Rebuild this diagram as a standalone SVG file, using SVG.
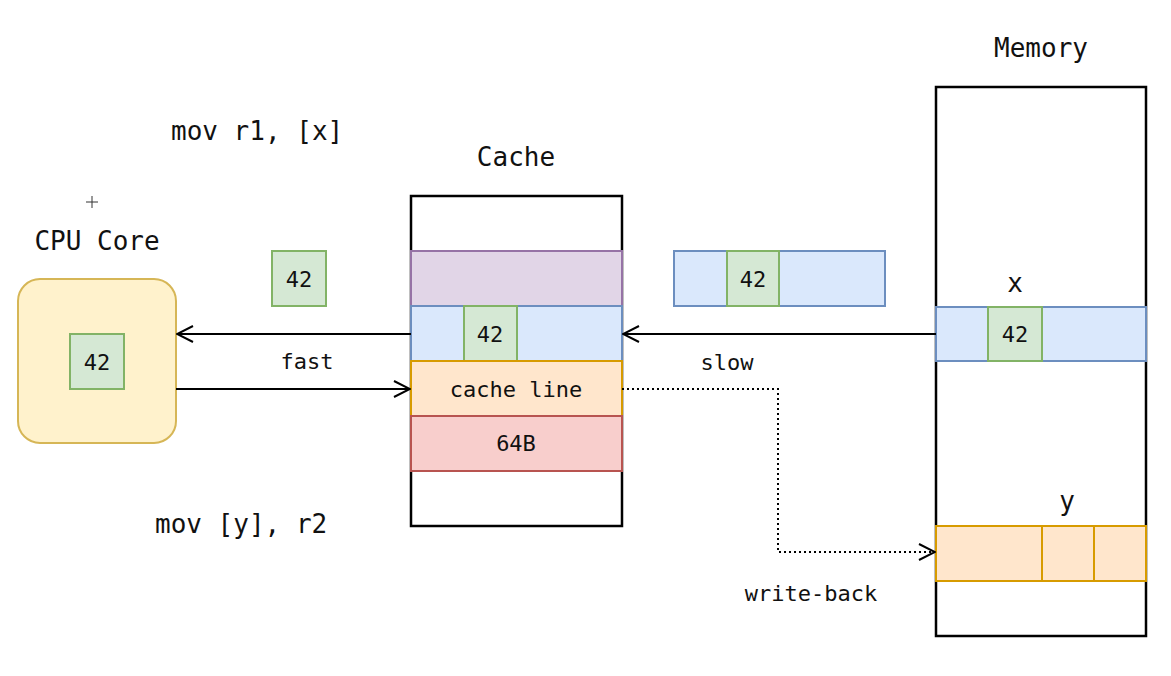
<svg xmlns="http://www.w3.org/2000/svg" width="1171" height="676" viewBox="0 0 1171 676">
<defs>
<style>
text{font-family:"DejaVu Sans Mono","Liberation Mono",monospace;fill:#111;text-anchor:middle;dominant-baseline:central}
.big{font-size:26px}
.sm{font-size:22px}
.g{fill:#d5e8d4;stroke:#82b366;stroke-width:2}
.b{fill:#dae8fc;stroke:#6c8ebf;stroke-width:2}
.p{fill:#e1d5e7;stroke:#9673a6;stroke-width:2}
.o{fill:#ffe6cc;stroke:#d79b00;stroke-width:2}
.r{fill:#f8cecc;stroke:#b85450;stroke-width:2}
.box{fill:#fff;stroke:#000;stroke-width:2.5}
.ln{fill:none;stroke:#000;stroke-width:2}
</style>
<marker id="ah" viewBox="0 0 20 20" refX="19" refY="10" markerWidth="20" markerHeight="20" markerUnits="userSpaceOnUse" orient="auto">
<path d="M3 2 L19 10 L3 18" fill="none" stroke="#000" stroke-width="2"/>
</marker>
</defs>
<rect width="1171" height="676" fill="#fff"/>
<path d="M92 196 V208 M86 202 H98" stroke="#333" stroke-width="1"/>
<text class="big" x="171" y="131" style="text-anchor:start">mov r1, [x]</text>
<text class="big" x="155" y="524" style="text-anchor:start">mov [y], r2</text>
<g id="cpu">
<text class="big" x="97" y="241">CPU Core</text>
<rect x="18" y="279" width="158" height="164" rx="22" fill="#fff2cc" stroke="#d6b656" stroke-width="2"/>
<rect class="g" x="70" y="334" width="54" height="55"/>
<text class="sm" x="97" y="362">42</text>
</g>
<g id="value">
<rect class="g" x="272" y="251" width="54" height="55"/>
<text class="sm" x="299" y="279">42</text>
</g>
<g id="cache">
<text class="big" x="516" y="157">Cache</text>
<rect class="box" x="411" y="196" width="211" height="330"/>
<rect class="p" x="411" y="251" width="211" height="55"/>
<rect class="b" x="411" y="306" width="211" height="55"/>
<rect class="g" x="464" y="306" width="53" height="55"/>
<text class="sm" x="490" y="334">42</text>
<rect class="o" x="411" y="361" width="211" height="55"/>
<text class="sm" x="516" y="389">cache line</text>
<rect class="r" x="411" y="416" width="211" height="55"/>
<text class="sm" x="516" y="443">64B</text>
</g>
<g id="transfer">
<rect class="b" x="674" y="251" width="211" height="55"/>
<rect class="g" x="727" y="251" width="52" height="55"/>
<text class="sm" x="753" y="279">42</text>
</g>
<g id="memory">
<text class="big" x="1041" y="48">Memory</text>
<rect class="box" x="936" y="87" width="210" height="549"/>
<text class="big" x="1015" y="283">x</text>
<rect class="b" x="936" y="307" width="210" height="54"/>
<rect class="g" x="988" y="307" width="54" height="54"/>
<text class="sm" x="1015" y="334">42</text>
<text class="big" x="1067" y="501">y</text>
<rect class="o" x="936" y="526" width="210" height="55"/>
<path d="M1042 526 V581 M1094 526 V581" stroke="#d79b00" stroke-width="2"/>
</g>
<g id="connectors">
<line class="ln" x1="411" y1="334" x2="177" y2="334" marker-end="url(#ah)"/>
<line class="ln" x1="176" y1="389" x2="410" y2="389" marker-end="url(#ah)"/>
<line class="ln" x1="936" y1="334" x2="623" y2="334" marker-end="url(#ah)"/>
<path class="ln" d="M622 389 H778 V552 H935" stroke-dasharray="2 3" marker-end="url(#ah)"/>
<text class="sm" x="307" y="361">fast</text>
<text class="sm" x="727" y="362">slow</text>
<text class="sm" x="811" y="593">write-back</text>
</g>
</svg>
